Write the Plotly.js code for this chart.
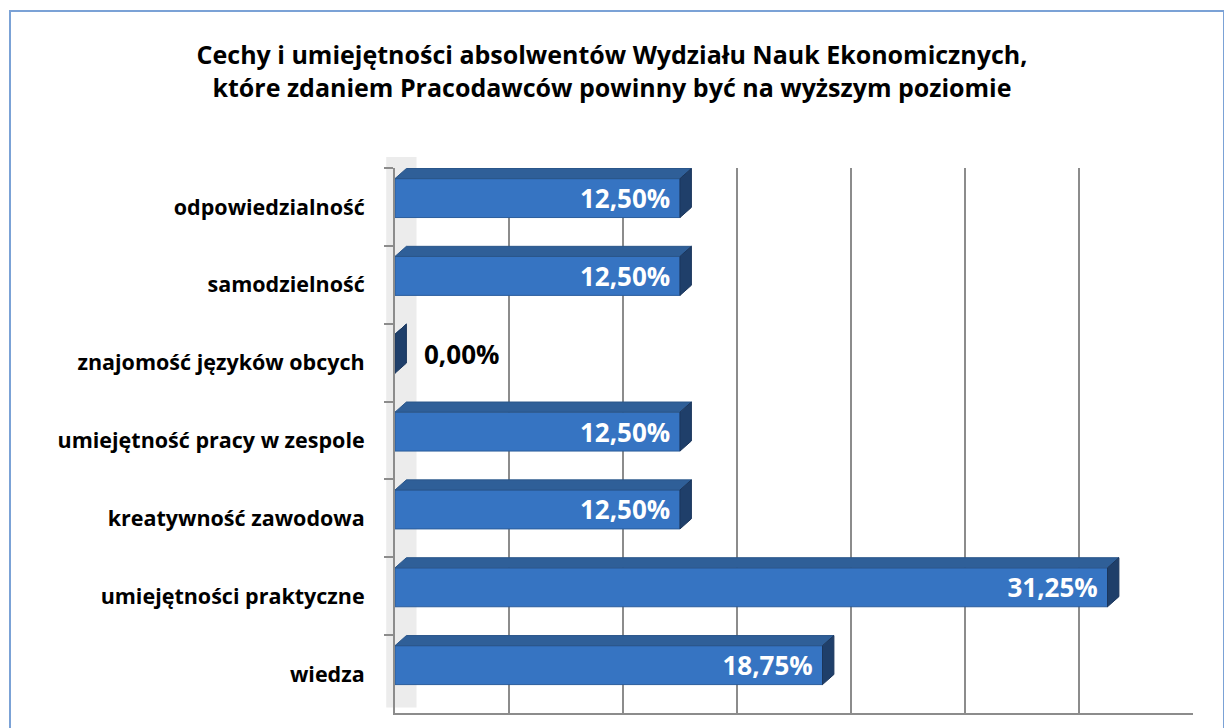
<!DOCTYPE html>
<html>
<head>
<meta charset="utf-8">
<script src="https://cdn.plot.ly/plotly-3.0.1.min.js"></script>
<style>
  html, body { margin: 0; padding: 0; background: #fff; overflow: hidden; }
  #chart { width: 1224px; height: 728px; }
  #frame { position: absolute; left: 9px; top: 10px; width: 1212px; height: 740px;
           border: 2px solid #7ba2d6; pointer-events: none; }
</style>
</head>
<body>
<div id="chart"></div>
<div id="frame"></div>
<script>
const categories = [
    'odpowiedzialność',
    'samodzielność',
    'znajomość języków obcych',
    'umiejętność pracy w zespole',
    'kreatywność zawodowa',
    'umiejętności praktyczne',
    'wiedza'
];
const shares = [12.5, 12.5, 0, 12.5, 12.5, 31.25, 18.75];

const fmt = v => v.toFixed(2).replace('.', ',') + '%';

// fake 3D: top and side faces of every bar
const barWidth = 0.5;
const barOffset = -0.365;
const depthX = 0.5;
const depthY = 0.13;

const faces = [];
shares.forEach((v, i) => {
    const top = i + barOffset;
    const bottom = top + barWidth;
    faces.push({
        type: 'path', xref: 'x', yref: 'y', layer: 'above',
        path: `M 0,${top} L ${v},${top} L ${v + depthX},${top - depthY} L ${depthX},${top - depthY} Z`,
        fillcolor: '#2f5f98', line: { color: '#2a568a', width: 1 }
    });
    faces.push({
        type: 'path', xref: 'x', yref: 'y', layer: 'above',
        path: `M ${v},${top} L ${v + depthX},${top - depthY} L ${v + depthX},${bottom - depthY} L ${v},${bottom} Z`,
        fillcolor: '#1f3f6a', line: { color: '#1b365c', width: 1 }
    });
});

// light left wall
faces.push({
    type: 'rect', xref: 'paper', yref: 'paper', layer: 'below',
    x0: -0.011, x1: 0.027, y0: 0.01, y1: 1.02,
    fillcolor: '#ececec', line: { width: 0 }
});

const trace = {
    type: 'bar',
    orientation: 'h',
    y: categories,
    x: shares,
    width: barWidth,
    offset: barOffset,
    marker: { color: '#3674c2', line: { color: '#2b5d9c', width: 1 } },
    text: shares.map(v => v > 0 ? fmt(v) + '\u00a0' : '\u2002\u2002' + fmt(v)),
    textposition: shares.map(v => v > 0 ? 'inside' : 'outside'),
    insidetextanchor: 'end',
    constraintext: 'none',
    textfont: {
        family: '"Open Sans", sans-serif',
        size: 26,
        weight: 'bold',
        color: shares.map(v => v > 0 ? '#ffffff' : '#000000')
    },
    cliponaxis: false,
    hoverinfo: 'y+text'
};

const layout = {
    width: 1224,
    height: 728,
    paper_bgcolor: '#ffffff',
    plot_bgcolor: '#ffffff',
    font: { family: '"Open Sans", sans-serif', color: '#000' },
    title: {
        text: '<b>Cechy i umiejętności absolwentów Wydziału Nauk Ekonomicznych,<br>które zdaniem Pracodawców powinny być na wyższym poziomie</b>',
        font: { size: 25, color: '#000' },
        x: 0.5,
        xanchor: 'center',
        y: 0.912,
        yanchor: 'middle'
    },
    margin: { l: 395, r: 31, t: 168, b: 15 },
    xaxis: {
        range: [0, 35],
        dtick: 5,
        showgrid: true,
        gridcolor: '#8c8c8c',
        gridwidth: 2,
        zeroline: false,
        showline: true,
        linecolor: '#8c8c8c',
        linewidth: 2,
        showticklabels: false,
        fixedrange: true
    },
    yaxis: {
        type: 'category',
        autorange: 'reversed',
        showgrid: false,
        showline: true,
        linecolor: '#8c8c8c',
        linewidth: 2,
        ticks: 'outside',
        tickson: 'boundaries',
        ticklen: 9,
        tickcolor: '#8c8c8c',
        tickwidth: 2,
        ticklabelstandoff: 24,
        tickfont: { size: 21.5, weight: 'bold', color: '#000' },
        fixedrange: true
    },
    shapes: faces,
    showlegend: false,
    bargap: 0.5
};

Plotly.newPlot('chart', [trace], layout, { displayModeBar: false, staticPlot: true });
</script>
</body>
</html>
